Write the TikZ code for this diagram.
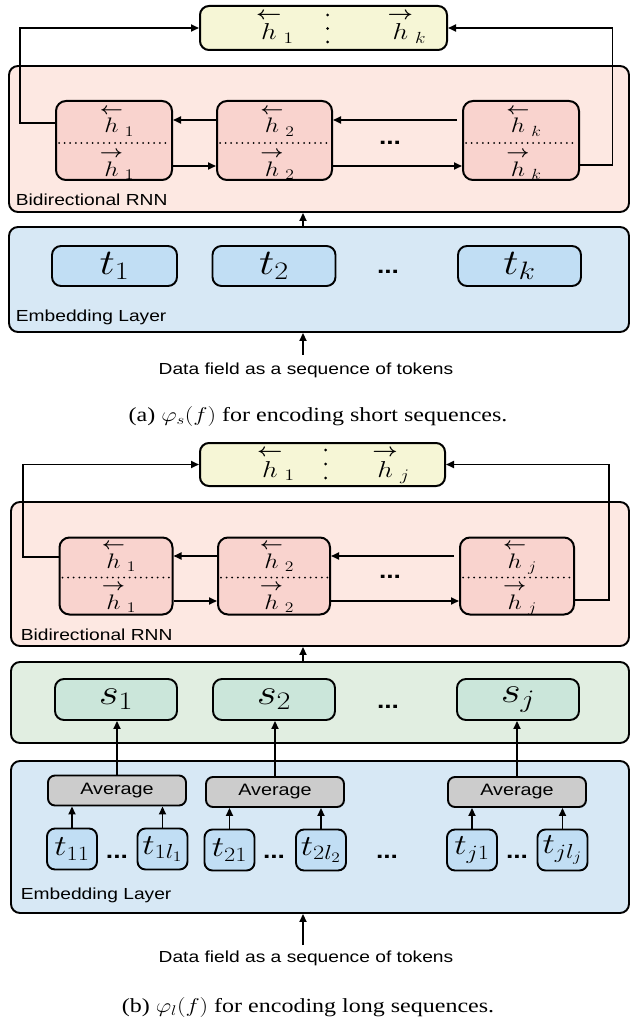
\RequirePackage{fix-cm}
\documentclass[tikz,border=0pt]{standalone}
\usepackage{amsmath}
\usepackage[no-math]{fontspec}
\setmainfont[FakeStretch=1.2]{Liberation Serif}
\newfontfamily\lblfont[FakeStretch=1.2]{Liberation Sans}
\usepackage{graphicx}
\usetikzlibrary{arrows.meta}

\definecolor{ylw}{HTML}{F6F6D6}
\definecolor{pinkout}{HTML}{FDE8E2}
\definecolor{cellpink}{HTML}{F9D3CE}
\definecolor{blueout}{HTML}{D7E8F5}
\definecolor{tokblue}{HTML}{C1DEF4}
\definecolor{greenout}{HTML}{E1EEE1}
\definecolor{sgreen}{HTML}{CBE6DA}
\definecolor{avggray}{HTML}{CCCCCC}

\newcommand{\wm}[1]{\scalebox{1.2}[1]{$#1$}}
\newcommand{\hb}[1]{\overset{\scalebox{0.8}{$\boldsymbol{\leftarrow}$}}{h}_{\mkern2mu#1}}
\newcommand{\hf}[1]{\overset{\scalebox{0.8}{$\boldsymbol{\rightarrow}$}}{h}_{\mkern2mu#1}}

\begin{document}
\begin{tikzpicture}[x=1pt,y=-1pt,>={Triangle[length=8pt,width=7pt]},line width=1.8pt,
  layer/.style={draw,rounded corners=9pt,line width=1.9pt,inner sep=0pt},
  cell/.style={draw,rounded corners=10pt,fill=cellpink,line width=2pt,inner sep=0pt},
  catbox/.style={draw,rounded corners=9pt,fill=ylw,line width=2pt,inner sep=0pt},
  tok/.style={draw,rounded corners=9pt,line width=1.9pt,inner sep=0pt,font=\fontsize{36}{40}\selectfont},
  smalltok/.style={draw,rounded corners=8pt,fill=tokblue,line width=1.9pt,inner sep=0pt,
    minimum width=50pt,minimum height=41pt,font=\fontsize{29}{32}\selectfont},
  avg/.style={draw,rounded corners=7pt,fill=avggray,line width=1.9pt,inner sep=0pt,
    minimum width=138pt,minimum height=30pt,font=\lblfont\fontsize{16.5}{20}\selectfont},
  hlab/.style={inner sep=0pt,anchor=base,font=\fontsize{21}{24}\selectfont},
  toplab/.style={inner sep=0pt,anchor=base,font=\fontsize{23}{27}\selectfont},
  lbl/.style={inner sep=0pt,anchor=base west,font=\lblfont\fontsize{16}{19}\selectfont},
  dots/.style={inner sep=0pt,font=\lblfont\bfseries\fontsize{22}{24}\selectfont},
  dotline/.style={line width=2pt,dash pattern=on 0pt off 5.6pt,line cap=round,shorten <=4pt,shorten >=3pt},
  caption/.style={inner sep=0pt,anchor=base,font=\fontsize{20}{24}\selectfont}]

  \useasboundingbox (0,0) rectangle (630,1019);
  \clip (0,0) rectangle (630,1019);

  % (a) short sequences
  \node[layer,fill=pinkout,minimum width=620pt,minimum height=146pt] (rnna) at (319,139) {};
  \node[layer,fill=blueout,minimum width=620pt,minimum height=105pt] (emba) at (319,279.5) {};
  \node[catbox,minimum width=247pt,minimum height=44pt] (cata) at (323.5,28) {};
  \node[toplab] (cata1) at (275,40) {\wm{\hb{1}}};
  \node[toplab] (catak) at (407,40) {\wm{\hf{k}}};
  \foreach \yy in {15,28.5,42}
    \fill (327.5,\yy) circle (1.5pt);

  \node[cell,minimum width=116pt,minimum height=79pt] (ca1) at (114,140.5) {};
  \node[cell,minimum width=115pt,minimum height=79pt] (ca2) at (274.5,140.5) {};
  \node[cell,minimum width=116pt,minimum height=79pt] (cak) at (521,140.5) {};
  \foreach \c in {ca1,ca2,cak}
    \draw[dotline] ([yshift=-2.5pt]\c.west) -- ([yshift=-2.5pt]\c.east);
  \node[hlab] (ca1b) at (117,133) {\wm{\hb{1}}};
  \node[hlab] (ca1f) at (117,176) {\wm{\hf{1}}};
  \node[hlab] (ca2b) at (277.5,133) {\wm{\hb{2}}};
  \node[hlab] (ca2f) at (277.5,176) {\wm{\hf{2}}};
  \node[hlab] (cakb) at (524,133) {\wm{\hb{k}}};
  \node[hlab] (cakf) at (524,176) {\wm{\hf{k}}};
  \node[dots] (dra) at (390,143) {...};

  \draw[->] ([yshift=20.5pt]ca2.west) -- ([yshift=20.5pt]ca1.east);
  \draw[->] ([xshift=-5pt,yshift=20.5pt]cak.west) -- ([yshift=20.5pt]ca2.east);
  \draw[->] ([yshift=-25.5pt]ca1.east) -- ([yshift=-25.5pt]ca2.west);
  \draw[->] ([yshift=-25.5pt]ca2.east) -- ([yshift=-25.5pt]cak.west);
  \draw[->] ([yshift=17.5pt]ca1.west) -- ++(-35,0) |- (cata.west);
  \draw[->] ([yshift=-24.5pt]cak.east) -- ++(32.5,0) |- (cata.east);
  \node[lbl] (bra) at (15,205) {Bidirectional RNN};

  \node[tok,fill=tokblue,minimum width=125pt,minimum height=40pt] (ta1) at (114.5,266) {\wm{t_1}};
  \node[tok,fill=tokblue,minimum width=123pt,minimum height=40pt] (ta2) at (274,266) {\wm{t_2}};
  \node[tok,fill=tokblue,minimum width=123pt,minimum height=40pt] (tak) at (519.5,266) {\wm{t_k}};
  \node[dots] (dta) at (388,272) {...};
  \node[lbl] (ela) at (15,321) {Embedding Layer};

  \coordinate (mida) at (303,0);
  \draw[->] (emba.north -| mida) -- (rnna.south -| mida);
  \node[lbl,anchor=base] (srca) at (306,374) {Data field as a sequence of tokens};
  \draw[->,shorten <=7pt] (srca.north -| mida) -- (emba.south -| mida);
  \node[caption] (capa) at (318,421) {(a) \wm{\varphi_s(f)} for encoding short sequences.};

  % (b) long sequences
  \node[layer,fill=pinkout,minimum width=618pt,minimum height=144pt] (rnnb) at (320,574) {};
  \node[layer,fill=greenout,minimum width=618pt,minimum height=81pt] (sumb) at (320,702.5) {};
  \node[layer,fill=blueout,minimum width=618pt,minimum height=152pt] (embb) at (320,837) {};
  \node[catbox,minimum width=245pt,minimum height=43pt] (catb) at (322.5,464.5) {};
  \node[toplab] (catb1) at (276,477) {\wm{\hb{1}}};
  \node[toplab] (catbj) at (391,477) {\wm{\hf{j}}};
  \foreach \yy in {450,464,478}
    \fill (325.5,\yy) circle (1.5pt);

  \node[cell,minimum width=113pt,minimum height=77pt] (cb1) at (116,576) {};
  \node[cell,minimum width=112pt,minimum height=77pt] (cb2) at (274,576) {};
  \node[cell,minimum width=114pt,minimum height=77pt] (cbj) at (517,576) {};
  \foreach \c in {cb1,cb2,cbj}
    \draw[dotline] ([yshift=-1.5pt]\c.west) -- ([yshift=-1.5pt]\c.east);
  \node[hlab] (cb1b) at (119,568) {\wm{\hb{1}}};
  \node[hlab] (cb1f) at (119,609) {\wm{\hf{1}}};
  \node[hlab] (cb2b) at (277,568) {\wm{\hb{2}}};
  \node[hlab] (cb2f) at (277,609) {\wm{\hf{2}}};
  \node[hlab] (cbjb) at (520,568) {\wm{\hb{j}}};
  \node[hlab] (cbjf) at (520,609) {\wm{\hf{j}}};
  \node[dots] (drb) at (390,577) {...};

  \draw[->] ([yshift=20pt]cb2.west) -- ([yshift=20pt]cb1.east);
  \draw[->] ([xshift=-5pt,yshift=20pt]cbj.west) -- ([yshift=20pt]cb2.east);
  \draw[->] ([yshift=-25pt]cb1.east) -- ([yshift=-25pt]cb2.west);
  \draw[->] ([yshift=-25pt]cb2.east) -- ([yshift=-25pt]cbj.west);
  \draw[->] ([yshift=19pt]cb1.west) -- ++(-35.5,0) |- (catb.west);
  \draw[->] ([yshift=-24pt]cbj.east) -- ++(34,0) |- (catb.east);
  \node[lbl] (brb) at (20,640) {Bidirectional RNN};

  \node[tok,fill=sgreen,minimum width=122pt,minimum height=41pt] (sb1) at (116,699.5) {\wm{s_1}};
  \node[tok,fill=sgreen,minimum width=122pt,minimum height=41pt] (sb2) at (274,699.5) {\wm{s_2}};
  \node[tok,fill=sgreen,minimum width=122pt,minimum height=41pt] (sbj) at (518,699.5) {\wm{s_j}};
  \node[dots] (dsb) at (388,707) {...};

  \node[avg] (av1) at (117,790.5) {Average};
  \node[avg] (av2) at (275,792) {Average};
  \node[avg] (avj) at (517,792) {Average};

  \node[smalltok] (tb11) at (72,849) {\wm{t_{11}}};
  \node[smalltok] (tb1l) at (162.5,849) {\wm{t_{1l_1}}};
  \node[smalltok] (tb21) at (229.5,850) {\wm{t_{21}}};
  \node[smalltok] (tb2l) at (321,850) {\wm{t_{2l_2}}};
  \node[smalltok] (tbj1) at (472,850) {\wm{t_{j1}}};
  \node[smalltok] (tbjl) at (562.5,850) {\wm{t_{jl_j}}};
  \node[dots] (dt1) at (117,857) {...};
  \node[dots] (dt2) at (274,857) {...};
  \node[dots] (dtm) at (387,857) {...};
  \node[dots] (dt3) at (517,857) {...};

  \foreach \t/\a in {tb11/av1,tb1l/av1,tb21/av2,tb2l/av2,tbj1/avj,tbjl/avj}
    \draw[->] (\t.north) -- (\t.north |- \a.south);
  \foreach \a/\s in {av1/sb1,av2/sb2,avj/sbj}
    \draw[->] (\a.north) -- (\a.north |- \s.south);
  \node[lbl] (elb) at (20,899) {Embedding Layer};

  \coordinate (midb) at (303,0);
  \draw[->] (sumb.north -| midb) -- (rnnb.south -| midb);
  \node[lbl,anchor=base] (srcb) at (306,962) {Data field as a sequence of tokens};
  \draw[->,shorten <=4.5pt] (srcb.north -| midb) -- (embb.south -| midb);
  \node[caption] (capb) at (308,1012) {(b) \wm{\varphi_l(f)} for encoding long sequences.};
\end{tikzpicture}
\end{document}
